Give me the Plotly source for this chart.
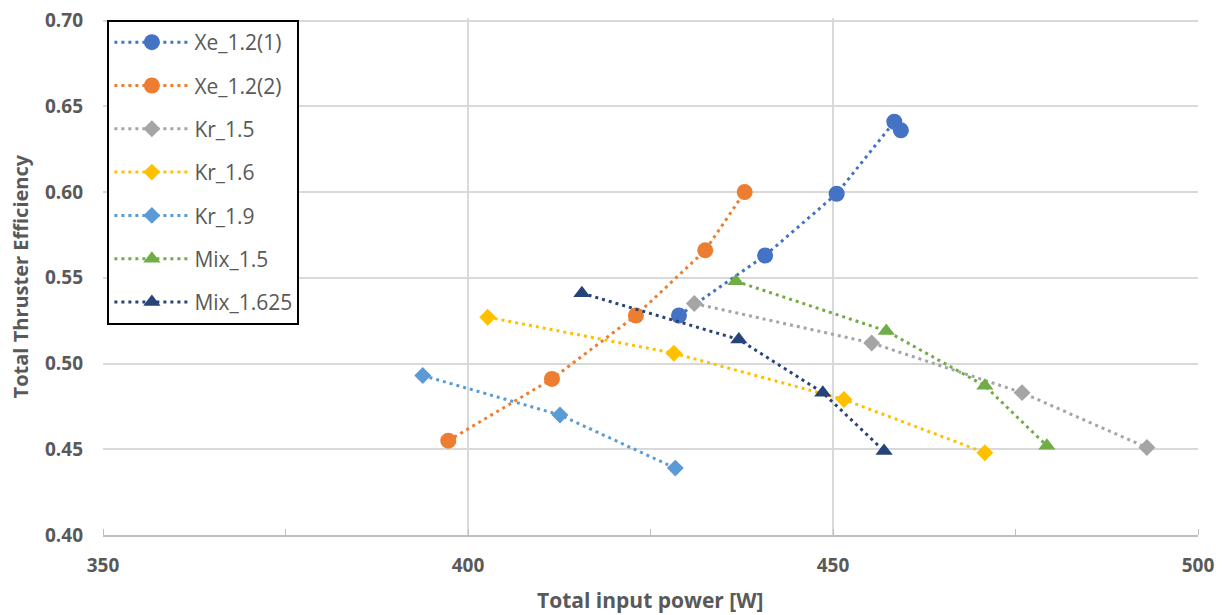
import plotly.graph_objects as go

# ---- data ----
xe1_x = [428.9, 440.7, 450.5, 458.4, 459.3]
xe1_y = [0.528, 0.563, 0.599, 0.641, 0.636]

xe2_x = [397.3, 411.5, 423.0, 432.5, 437.9]
xe2_y = [0.455, 0.491, 0.528, 0.566, 0.600]

kr15_x = [431.0, 455.3, 475.9, 493.0]
kr15_y = [0.535, 0.512, 0.483, 0.451]

kr16_x = [402.7, 428.2, 451.5, 470.8]
kr16_y = [0.527, 0.506, 0.479, 0.448]

kr19_x = [393.8, 412.6, 428.4]
kr19_y = [0.493, 0.470, 0.439]

mix15_x = [436.7, 457.3, 470.8, 479.3]
mix15_y = [0.548, 0.519, 0.487, 0.452]

mix1625_x = [415.6, 437.1, 448.6, 457.0]
mix1625_y = [0.541, 0.514, 0.483, 0.449]

y_ticks = [0.40, 0.45, 0.50, 0.55, 0.60, 0.65, 0.70]
x_ticks = [350, 400, 450, 500]

series = [
    ("Xe_1.2(1)", xe1_x, xe1_y, "#4472C4", "circle", 16),
    ("Xe_1.2(2)", xe2_x, xe2_y, "#ED7D31", "circle", 16),
    ("Kr_1.5", kr15_x, kr15_y, "#A5A5A5", "diamond", 13),
    ("Kr_1.6", kr16_x, kr16_y, "#FFC000", "diamond", 13),
    ("Kr_1.9", kr19_x, kr19_y, "#5B9BD5", "diamond", 13),
    ("Mix_1.5", mix15_x, mix15_y, "#70AD47", "triangle-up", 15),
    ("Mix_1.625", mix1625_x, mix1625_y, "#264478", "triangle-up", 15),
]

fig = go.Figure()
for i, (name, xs, ys, col, sym, sz) in enumerate(series):
    fig.add_trace(go.Scatter(
        x=xs, y=ys, name=name, mode="lines+markers",
        legendgroup=f"g{i}",
        line=dict(color=col, width=3, dash="3px,4px"),
        marker=dict(color=col, symbol=sym, size=sz, line=dict(width=0)),
    ))

font_fam = "Open Sans, Segoe UI, Arial, sans-serif"
# the page body adds an 8px offset, so the figure is 8px smaller each way
fig.update_layout(
    width=1215, height=607,
    margin=dict(l=95, r=25, t=10, b=80),
    paper_bgcolor="white", plot_bgcolor="white",
    font=dict(family=font_fam, color="#595959"),
    showlegend=True,
    legend=dict(
        x=0.004, y=0.996, xanchor="left", yanchor="top",
        bgcolor="white", bordercolor="black", borderwidth=2,
        font=dict(size=21, color="#595959"),
        tracegroupgap=13, traceorder="grouped",
        itemwidth=75,
    ),
    xaxis=dict(
        range=[350, 500], tickvals=x_ticks,
        automargin=False,
        showgrid=True, gridcolor="#d9d9d9", gridwidth=2,
        showline=True, linecolor="#bfbfbf", linewidth=2,
        zeroline=False, ticks="",
        tickfont=dict(size=19, color="#595959", family=font_fam, weight="bold"),
        ticklabelstandoff=12, ticklabeloverflow="allow",
        minor=dict(dtick=25, tick0=350, ticks="inside", ticklen=6,
                   tickcolor="#bfbfbf", tickwidth=1, showgrid=False),
    ),
    yaxis=dict(
        range=[0.40, 0.7015], tickvals=y_ticks, ticktext=[f"{v:.2f}" for v in y_ticks],
        automargin=False,
        showgrid=True, gridcolor="#d9d9d9", gridwidth=2,
        showline=False, zeroline=False, ticks="",
        tickfont=dict(size=19, color="#595959", family=font_fam, weight="bold"),
        ticklabelstandoff=19, ticklabeloverflow="allow",
    ),
    annotations=[
        dict(text="<b>Total input power [W]</b>", xref="paper", yref="paper",
             x=0.5, y=-0.125, xanchor="center", yanchor="middle", showarrow=False,
             font=dict(size=21, color="#595959", family=font_fam)),
        dict(text="<b>Total Thruster Efficiency</b>", xref="paper", yref="paper",
             x=-0.075, y=0.5, xanchor="center", yanchor="middle", showarrow=False,
             textangle=-90,
             font=dict(size=20, color="#595959", family=font_fam)),
    ],
)

fig.write_html("out.html")
